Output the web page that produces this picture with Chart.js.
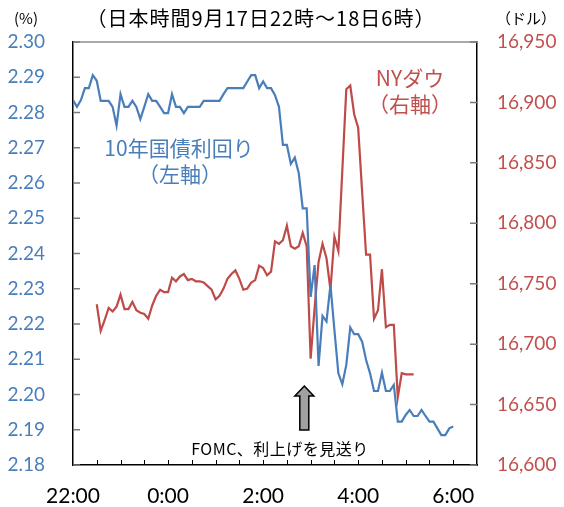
<!DOCTYPE html>
<html>
<head>
<meta charset="utf-8">
<script src="https://cdn.jsdelivr.net/npm/chart.js@4"></script>
<style>
  html, body { margin: 0; padding: 0; background: #fff; }
</style>
</head>
<body>
<canvas id="myChart" width="564" height="507"></canvas>
<script>
// 5-minute data, minutes counted from 22:00 (JST, Sep 17)
const timeStepMin = 5;

const bondStartMin = 0;
const bondYield = [
    2.2835, 2.2816, 2.2835, 2.2869, 2.2869, 2.2906, 2.2890, 2.2833, 2.2833, 2.2833,
    2.2816, 2.2763, 2.2852, 2.2816, 2.2816, 2.2833, 2.2816, 2.2781, 2.2816, 2.2852,
    2.2833, 2.2833, 2.2816, 2.2798, 2.2798, 2.2852, 2.2816, 2.2816, 2.2798, 2.2816,
    2.2816, 2.2816, 2.2816, 2.2833, 2.2833, 2.2833, 2.2833, 2.2833, 2.2852, 2.2869,
    2.2869, 2.2869, 2.2869, 2.2869, 2.2888, 2.2906, 2.2906, 2.2869, 2.2888, 2.2869,
    2.2869, 2.2849, 2.2816, 2.2708, 2.2708, 2.2654, 2.2672, 2.2628, 2.2528, 2.2528,
    2.2277, 2.2367, 2.2081, 2.2223, 2.2207, 2.2311, 2.2183, 2.2060, 2.2029, 2.2084,
    2.2190, 2.2171, 2.2171, 2.2150, 2.2098, 2.2060, 2.2010, 2.2010, 2.2062, 2.2010,
    2.2010, 2.2027, 2.1923, 2.1923, 2.1942, 2.1956, 2.1939, 2.1939, 2.1956, 2.1939,
    2.1923, 2.1923, 2.1904, 2.1885, 2.1885, 2.1904, 2.1909
];

const dowStartMin = 30;
const dowValues = [
    16733, 16711, 16720, 16730, 16727, 16731, 16741, 16729, 16729, 16735,
    16728, 16726, 16725, 16721, 16732, 16740, 16745, 16743, 16743, 16755,
    16752, 16756, 16758, 16753, 16754, 16752, 16752, 16751, 16748, 16745,
    16737, 16740, 16746, 16754, 16758, 16761, 16754, 16745, 16746, 16751,
    16753, 16765, 16763, 16757, 16760, 16785, 16783, 16786, 16798, 16781,
    16779, 16781, 16792, 16781, 16688, 16730, 16768, 16783, 16771, 16745,
    16789, 16777, 16844, 16911, 16914, 16890, 16879, 16826, 16774, 16774,
    16721, 16728, 16762, 16714, 16716, 16716, 16656, 16676, 16675, 16675, 16675
];

const timeLabels = ['22:00', '0:00', '2:00', '4:00', '6:00'];
const fomcMin = 292;

const BLUE = '#4A7EBB';
const RED = '#BE4B48';
const NUM_FONT = 'Lato';
const JP_FONT = '"Noto Sans CJK JP"';

function toPoints(values, startMin) {
    return values.map((v, i) => ({ x: startMin + i * timeStepMin, y: v }));
}

function drawText(ctx, text, x, y, font, color, spacing) {
    ctx.font = font;
    ctx.fillStyle = color;
    ctx.letterSpacing = (spacing || 0) + 'px';
    ctx.textAlign = 'center';
    ctx.textBaseline = 'middle';
    ctx.fillText(text, x, y);
    ctx.letterSpacing = '0px';
}

const decorations = {
    id: 'decorations',
    afterDraw(chart) {
        const { ctx, chartArea: a, scales } = chart;
        ctx.save();

        // top frame line
        ctx.strokeStyle = '#8c8c8c';
        ctx.lineWidth = 1.5;
        ctx.beginPath();
        ctx.moveTo(a.left, a.top);
        ctx.lineTo(a.right, a.top);
        ctx.stroke();

        // inward tick marks
        ctx.strokeStyle = '#7a7a7a';
        ctx.beginPath();
        scales.y.ticks.forEach(t => {
            const py = scales.y.getPixelForValue(t.value);
            ctx.moveTo(a.left, py);
            ctx.lineTo(a.left + 7, py);
        });
        scales.y1.ticks.forEach(t => {
            const py = scales.y1.getPixelForValue(t.value);
            ctx.moveTo(a.right - 7, py);
            ctx.lineTo(a.right, py);
        });
        ctx.stroke();

        ctx.strokeStyle = '#000';
        ctx.lineWidth = 1;
        ctx.beginPath();
        scales.x.ticks.forEach(t => {
            if (t.value <= scales.x.min || t.value >= scales.x.max) return;
            const px = Math.round(scales.x.getPixelForValue(t.value)) + 0.5;
            ctx.moveTo(px, a.bottom);
            ctx.lineTo(px, a.bottom - 5);
        });
        ctx.stroke();

        // headings
        drawText(ctx, '(%)', 26, 18, '15px ' + JP_FONT, '#000');
        drawText(ctx, '（日本時間9月17日22時～18日6時）', 261, 18, '20px ' + JP_FONT, '#000', 1);
        drawText(ctx, '（ドル）', 526, 18, '15px ' + JP_FONT, '#000');

        // series labels
        drawText(ctx, '10年国債利回り', 179, 148, '21px ' + JP_FONT, BLUE, 0);
        drawText(ctx, '（左軸）', 180, 174, '21px ' + JP_FONT, BLUE);
        drawText(ctx, 'NYダウ', 410, 78, '21px ' + JP_FONT, '#C0504D');
        drawText(ctx, '（右軸）', 410, 104, '21px ' + JP_FONT, '#C0504D');

        // FOMC arrow + note
        const ax = scales.x.getPixelForValue(fomcMin);
        ctx.beginPath();
        ctx.moveTo(ax, 386);
        ctx.lineTo(ax + 9.5, 396);
        ctx.lineTo(ax + 4.5, 396);
        ctx.lineTo(ax + 4.5, 430);
        ctx.lineTo(ax - 4.5, 430);
        ctx.lineTo(ax - 4.5, 396);
        ctx.lineTo(ax - 9.5, 396);
        ctx.closePath();
        ctx.fillStyle = '#a0a0a0';
        ctx.fill();
        ctx.strokeStyle = '#000';
        ctx.lineWidth = 1.5;
        ctx.stroke();
        drawText(ctx, 'FOMC、利上げを見送り', 280, 449, '16px ' + JP_FONT, '#000', 0.5);

        ctx.restore();
    }
};

new Chart(document.getElementById('myChart'), {
    type: 'line',
    data: {
        datasets: [{
            label: '10年国債利回り',
            data: toPoints(bondYield, bondStartMin),
            yAxisID: 'y',
            borderColor: BLUE,
            borderWidth: 2.2,
            pointRadius: 0,
            tension: 0,
            fill: false
        }, {
            label: 'NYダウ',
            data: toPoints(dowValues, dowStartMin),
            yAxisID: 'y1',
            borderColor: RED,
            borderWidth: 2.2,
            pointRadius: 0,
            tension: 0,
            fill: false
        }]
    },
    options: {
        responsive: false,
        animation: false,
        layout: { padding: { top: 42, left: 0, right: 0, bottom: 0 } },
        plugins: {
            legend: { display: false },
            tooltip: { enabled: false }
        },
        scales: {
            x: {
                type: 'linear',
                min: 0,
                max: 510,
                afterFit: s => { s.height = 42; },
                grid: { drawOnChartArea: false, drawTicks: false },
                border: { color: '#000', width: 1.5 },
                ticks: {
                    stepSize: 30,
                    autoSkip: false,
                    maxRotation: 0,
                    padding: 19,
                    color: '#000',
                    font: { family: NUM_FONT, size: 21 },
                    callback: v => (v % 120 === 0 ? timeLabels[v / 120] : '')
                }
            },
            y: {
                position: 'left',
                min: 2.18,
                max: 2.30,
                afterFit: s => { s.width = 73; },
                grid: { drawOnChartArea: false, drawTicks: false },
                border: { color: '#000', width: 1.5 },
                ticks: {
                    stepSize: 0.01,
                    padding: 28,
                    color: BLUE,
                    font: { family: NUM_FONT, size: 19 },
                    callback: v => v.toFixed(2)
                }
            },
            y1: {
                position: 'right',
                min: 16600,
                max: 16950,
                afterFit: s => { s.width = 87; },
                grid: { drawOnChartArea: false, drawTicks: false },
                border: { color: '#000', width: 1.5 },
                ticks: {
                    stepSize: 50,
                    padding: 20,
                    color: '#C0504D',
                    font: { family: NUM_FONT, size: 19 },
                    callback: v => v.toLocaleString('en-US')
                }
            }
        }
    },
    plugins: [decorations]
});
</script>
</body>
</html>
